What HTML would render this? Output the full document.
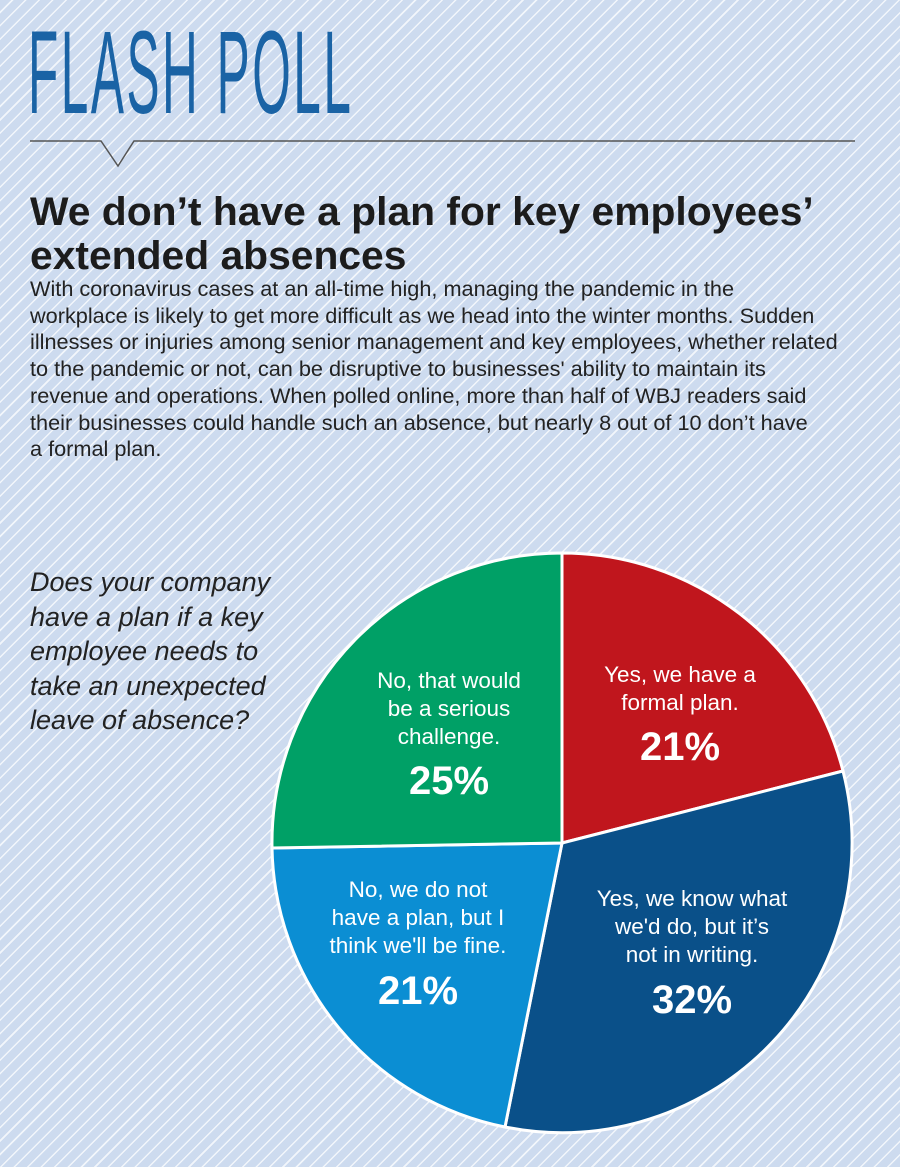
<!DOCTYPE html>
<html><head><meta charset="utf-8"><style>
body{margin:0;}
.wrap{position:relative;width:900px;height:1167px;overflow:hidden;
background-color:#cddbef;
background-image:repeating-linear-gradient(-45deg,#cddbef 0px,#cddbef 8px,#f2f6fb 8px,#f2f6fb 9.5px);
font-family:"Liberation Sans",Arial,sans-serif;}
.title{position:absolute;left:28px;top:14px;font-size:118px;color:#1a63a5;letter-spacing:6px;
transform:scaleX(0.42);transform-origin:0 0;white-space:nowrap;font-weight:normal;line-height:1;}
h1{position:absolute;left:30px;top:190px;margin:0;font-size:40px;line-height:44px;color:#1c1c1c;font-weight:bold;
transform:scaleX(1.02);transform-origin:0 0;white-space:nowrap;}
.body{position:absolute;left:30px;top:276px;width:880px;font-size:21.7px;line-height:26.7px;color:#222;white-space:nowrap;}
.q{position:absolute;left:30px;top:565px;font-size:27px;line-height:34.5px;font-style:italic;color:#222;}
svg text{font-family:"Liberation Sans",Arial,sans-serif;fill:#fff;text-anchor:middle;}
</style></head><body><div class="wrap">
<div class="title">FLASH POLL</div>
<svg style="position:absolute;left:0;top:0" width="900" height="180">
<polyline points="30,141 101,141 118,166 134,141 855,141" fill="none" stroke="#555" stroke-width="1.5"/>
</svg>
<h1>We don’t have a plan for key employees’<br>extended absences</h1>
<div class="body">With coronavirus cases at an all-time high, managing the pandemic in the<br>workplace is likely to get more difficult as we head into the winter months. Sudden<br>illnesses or injuries among senior management and key employees, whether related<br>to the pandemic or not, can be disruptive to businesses' ability to maintain its<br>revenue and operations. When polled online, more than half of WBJ readers said<br>their businesses could handle such an absence, but nearly 8 out of 10 don’t have<br>a formal plan.</div>
<div class="q">Does your company<br>have a plan if a key<br>employee needs to<br>take an unexpected<br>leave of absence?</div>
<svg style="position:absolute;left:0;top:0" width="900" height="1167">
<g stroke="#fff" stroke-width="3">
<path d="M562,843 L562,553 A290,290 0 0 1 843,771 Z" fill="#c0161d"/>
<path d="M562,843 L843,771 A290,290 0 0 1 505,1127 Z" fill="#0a5089"/>
<path d="M562,843 L505,1127 A290,290 0 0 1 272,848 Z" fill="#0b8ed3"/>
<path d="M562,843 L272,848 A290,290 0 0 1 562,553 Z" fill="#00a066"/>
</g>
<g font-size="22.5">
<text x="680" y="682">Yes, we have a</text><text x="680" y="710">formal plan.</text>
<text x="680" y="760" font-size="40" font-weight="bold">21%</text>
<text x="449" y="688">No, that would</text><text x="449" y="716">be a serious</text><text x="449" y="744">challenge.</text>
<text x="449" y="794" font-size="40" font-weight="bold">25%</text>
<text x="418" y="897">No, we do not</text><text x="418" y="925">have a plan, but I</text><text x="418" y="953">think we'll be fine.</text>
<text x="418" y="1004" font-size="40" font-weight="bold">21%</text>
<text x="692" y="906">Yes, we know what</text><text x="692" y="934">we'd do, but it’s</text><text x="692" y="962">not in writing.</text>
<text x="692" y="1013" font-size="40" font-weight="bold">32%</text>
</g>
</svg>
</div></body></html>
